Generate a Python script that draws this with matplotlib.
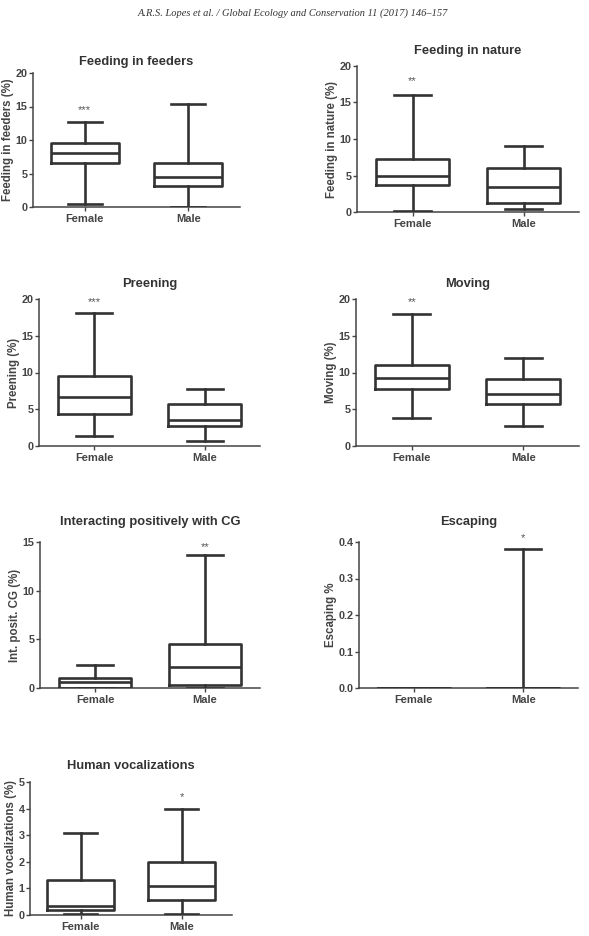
import matplotlib
matplotlib.use("Agg")
import matplotlib.pyplot as plt

plt.rcParams.update({
    "font.family": "Liberation Sans",
    "font.weight": "bold",
    "axes.edgecolor": "#444444",
    "text.color": "#333333",
    "xtick.color": "#444444",
    "ytick.color": "#444444",
})

LINE_C = "#333333"

# ---- data: whisker low, Q1, median, Q3, whisker high ----
GROUPS = ["Female", "Male"]

TITLES = ["Feeding in feeders", "Feeding in nature", "Preening", "Moving",
          "Interacting positively with CG", "Escaping", "Human vocalizations"]
YLABELS = ["Feeding in feeders (%)", "Feeding in nature (%)", "Preening (%)", "Moving (%)",
           "Int. posit. CG (%)", "Escaping %", "Human vocalizations (%)"]

FEEDERS_F = [0.4, 6.5, 8.1, 9.6, 12.7]
FEEDERS_M = [0.05, 3.1, 4.5, 6.6, 15.3]
NATURE_F = [0.2, 3.7, 5.0, 7.3, 16.0]
NATURE_M = [0.4, 1.3, 3.4, 6.0, 9.0]
PREEN_F = [1.3, 4.3, 6.6, 9.5, 18.1]
PREEN_M = [0.7, 2.7, 3.5, 5.7, 7.7]
MOVING_F = [3.8, 7.8, 9.3, 11.0, 18.0]
MOVING_M = [2.7, 5.7, 7.1, 9.1, 12.0]
INTCG_F = [0.0, 0.03, 0.6, 1.05, 2.35]
INTCG_M = [0.0, 0.3, 2.2, 4.5, 13.7]
ESCAPE_F = [0.0, 0.0, 0.0, 0.0, 0.0]
ESCAPE_M = [0.0, 0.0, 0.0, 0.0, 0.38]
HUMVOC_F = [0.02, 0.17, 0.35, 1.32, 3.1]
HUMVOC_M = [0.02, 0.58, 1.1, 2.0, 4.0]

SERIES = [(FEEDERS_F, FEEDERS_M), (NATURE_F, NATURE_M), (PREEN_F, PREEN_M),
          (MOVING_F, MOVING_M), (INTCG_F, INTCG_M), (ESCAPE_F, ESCAPE_M),
          (HUMVOC_F, HUMVOC_M)]

YMAX = [20, 20, 20, 20, 15, 0.4, 5]
YSTEP = [5, 5, 5, 5, 5, 0.1, 1]
YFMT = ["{:.0f}", "{:.0f}", "{:.0f}", "{:.0f}", "{:.0f}", "{:.1f}", "{:.0f}"]

# significance marks: (group index, y value, text)
STARS = [(0, 14.4, "***"), (0, 17.9, "**"), (0, 19.6, "***"), (0, 19.6, "**"),
         (1, 14.5, "**"), (1, 0.41, "*"), (1, 4.45, "*")]

# axes boxes in pixels: left, top, right, bottom  (page is 589 x 936)
W, H = 589, 936
BOXES = [(33, 73, 240, 207), (357, 66, 579, 212),
         (39, 299, 260, 446), (356, 299, 579, 446),
         (40, 542, 260, 688), (359, 542, 578, 688),
         (30, 782, 232, 915)]
TITLE_PAD = [6.1, 8.3, 9.0, 9.0, 11.9, 11.9, 9.7]

fig = plt.figure(figsize=(W / 100, H / 100), dpi=100)
fig.text(0.497, 1 - 13 / H, "A.R.S. Lopes et al. / Global Ecology and Conservation 11 (2017) 146\u2013157",
         ha="center", va="center", family="Liberation Serif", style="italic",
         weight="normal", fontsize=7.5, color="#333333")

for i, (fem, mal) in enumerate(SERIES):
    l, t, r, b = BOXES[i]
    ax = fig.add_axes([l / W, 1 - b / H, (r - l) / W, (b - t) / H])
    stats = []
    for name, v in zip(GROUPS, (fem, mal)):
        stats.append(dict(label=name, whislo=v[0], q1=v[1], med=v[2], q3=v[3], whishi=v[4], fliers=[]))
    lp = dict(color=LINE_C, linewidth=1.9)
    ax.bxp(stats, positions=[1, 2], widths=0.66, showfliers=False,
           boxprops=lp, whiskerprops=lp, capprops=lp, medianprops=lp, capwidths=0.33)

    ax.set_xlim(0.5, 2.5)
    ax.set_ylim(0, YMAX[i])
    n = int(round(YMAX[i] / YSTEP[i]))
    ticks = [k * YSTEP[i] for k in range(n + 1)]
    ax.set_yticks(ticks)
    ax.set_yticklabels([YFMT[i].format(v) for v in ticks])
    ax.set_xticks([1, 2])
    ax.set_xticklabels(GROUPS)
    for s in ("top", "right"):
        ax.spines[s].set_visible(False)
    for s in ("left", "bottom"):
        ax.spines[s].set_linewidth(1.1)
    ax.spines["bottom"].set_zorder(0)
    ax.tick_params(axis="y", labelsize=7.8, length=3, width=1.0, pad=0.8)
    ax.tick_params(axis="x", labelsize=8, length=3, width=1.0, pad=2)
    ax.set_ylabel(YLABELS[i], fontsize=8.3, fontweight="bold", labelpad=1.5, color="#444444")
    ax.set_title(TITLES[i], fontsize=9.3, fontweight="bold", pad=TITLE_PAD[i])

    g, yv, txt = STARS[i]
    ax.text(g + 1, yv, txt, ha="center", va="center", fontsize=8, color="#555555",
            fontweight="normal")

fig.savefig("out.png", dpi=100, facecolor="white")
